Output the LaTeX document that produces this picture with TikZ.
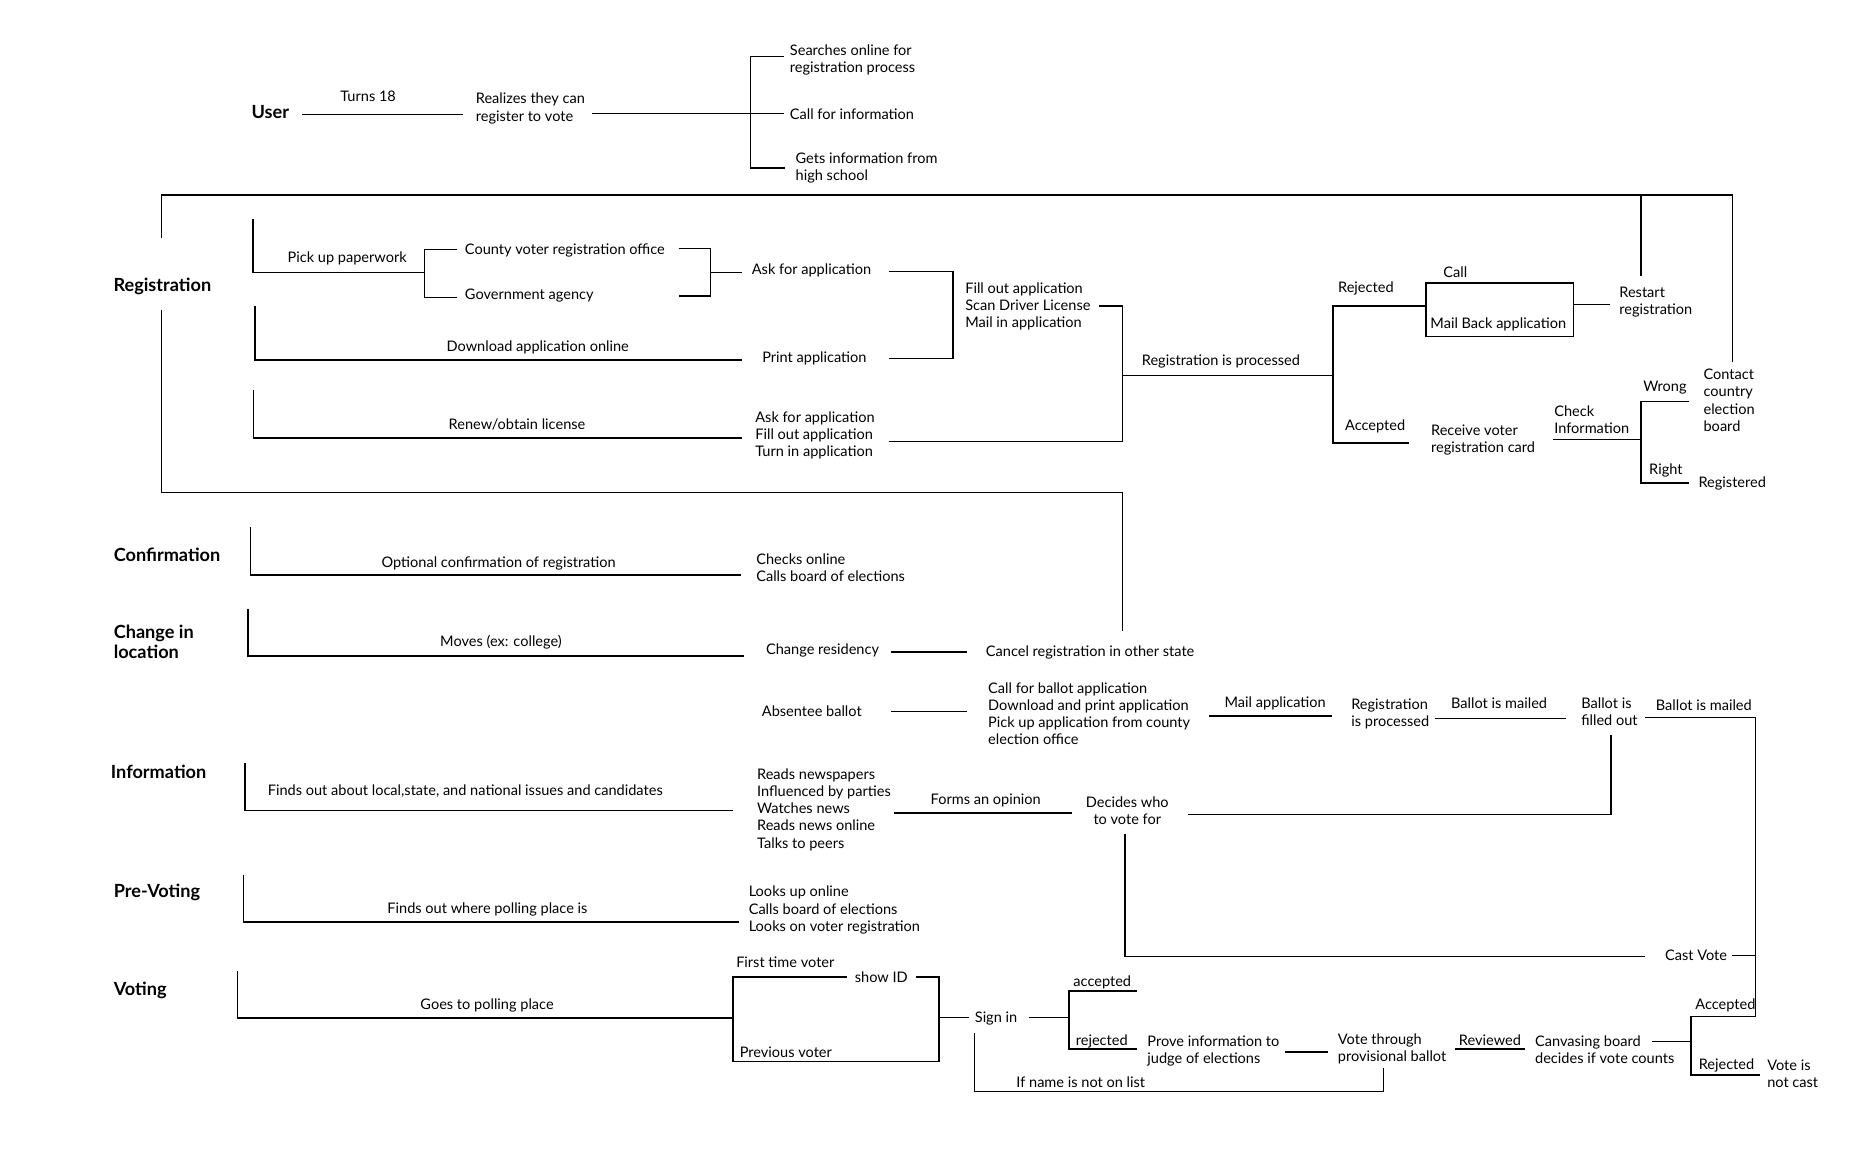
\documentclass[tikz,border=0pt]{standalone}
\usepackage{fontspec}
\setmainfont{Lato}
\tikzset{
  txt/.style={font=\fontsize{12.2}{14.4}\selectfont, inner sep=0pt, align=left, yshift=-1.5pt, execute at begin node=\strut, execute at end node=\strut},
  tw/.style={txt, anchor=west},
  tc/.style={txt, anchor=center},
  lab/.style={font=\bfseries\fontsize{15.2}{17.5}\selectfont, inner sep=0pt, align=left, anchor=west, yshift=-2pt, execute at begin node=\strut, execute at end node=\strut},
  ln/.style={line width=1.2pt, line cap=butt, line join=miter}
}
\begin{document}
\begin{tikzpicture}[x=1pt,y=-1pt]
\useasboundingbox (0,0) rectangle (1565.1,967.5);
% ---------- section labels
\node[lab] (user) at (210.7,94) {User};
\node[lab] (reg) at (95,239) {Registration};
\node[lab] (conf) at (95.2,465) {Confirmation};
\node[lab] (chg) at (95.2,538.6) {Change in\\location};
\node[lab] (info) at (92.8,647.4) {Information};
\node[lab] (pre) at (95.2,747.2) {Pre-Voting};
\node[lab] (vot) at (95.2,829) {Voting};
% ---------- user
\node[tc] (turns) at (308.6,80.9) {Turns 18};
\node[tw] (realize) at (398.7,90.5) {Realizes they can\\register to vote};
\node[tw] (search) at (662,49.8) {Searches online for\\registration process};
\node[tw] (callinfo) at (662,96) {Call for information};
\node[tw] (highschool) at (666.8,140.5) {Gets information from\\high school};
% ---------- registration
\node[tc] (pickup) at (291,215.8) {Pick up paperwork};
\node[tw] (county) at (389.6,209.1) {County voter registration office};
\node[tw] (govt) at (389.6,246.4) {Government agency};
\node[tw] (askapp) at (630.1,225.8) {Ask for application};
\node[tc] (download) at (450.8,290.4) {Download application online};
\node[tw] (printapp) at (638.8,299.3) {Print application};
\node[tw] (fillout) at (809,256.5) {Fill out application\\Scan Driver License\\Mail in application};
\node[tc] (processed) at (1023.5,302.4) {Registration is processed};
\node[tc] (renew) at (433.4,355.9) {Renew/obtain license};
\node[tw] (askfill) at (633,364.5) {Ask for application\\Fill out application\\Turn in application};
\node[tc] (rejected) at (1145,240.6) {Rejected};
\node[tc] (accepted) at (1152.8,356.3) {Accepted};
\node[tc] (call) at (1220,228) {Call};
\node[tc] (mailback) at (1256,270.7) {Mail Back application};
\node[tw] (restart) at (1357.3,253) {Restart\\registration};
\node[tw] (receive) at (1199.5,368.6) {Receive voter\\registration card};
\node[tw] (check) at (1302.8,352.2) {Check\\Information};
\node[tc] (wrong) at (1395.7,323.7) {Wrong};
\node[tc] (right) at (1396.5,393) {Right};
\node[tw] (registered) at (1423.7,404) {Registered};
\node[tw] (contact) at (1427.9,336.2) {Contact\\country\\election\\board};
% ---------- confirmation
\node[tc] (optional) at (418,471.4) {Optional confirmation of registration};
\node[tw] (checks) at (633.8,476.3) {Checks online\\Calls board of elections};
% ---------- change in location
\node[tc] (moves) at (420,537.4) {Moves (ex: college)};
\node[tw] (residency) at (642,544.3) {Change residency};
\node[tw] (cancel) at (826.3,545.6) {Cancel registration in other state};
\node[tw] (absentee) at (638.5,596.1) {Absentee ballot};
\node[tw] (ballotapp) at (828.2,598.9) {Call for ballot application\\Download and print application\\Pick up application from county\\election office};
\node[tc] (mailapp) at (1069,588.3) {Mail application};
\node[tw] (regproc) at (1132.6,598) {Registration\\is processed};
\node[tc] (mailedA) at (1256.7,589.7) {Ballot is mailed};
\node[tw] (filled) at (1325.4,597) {Ballot is\\filled out};
\node[tc] (mailedB) at (1428.3,591.6) {Ballot is mailed};
% ---------- information
\node[tw] (findsout) at (224.3,662.2) {Finds out about local,state, and national issues and candidates};
\node[tw] (reads) at (634.5,678.3) {Reads newspapers\\Influenced by parties\\Watches news\\Reads news online\\Talks to peers};
\node[tc] (opinion) at (826.3,670) {Forms an opinion};
\node[tc, align=center] (decides) at (945,680.5) {Decides who\\to vote for};
\node[tc] (castvote) at (1421.8,801) {Cast Vote};
% ---------- pre-voting
\node[tc] (wherepoll) at (408.6,761.1) {Finds out where polling place is};
\node[tw] (looks) at (627.5,762.4) {Looks up online\\Calls board of elections\\Looks on voter registration};
% ---------- voting
\node[tc] (polling) at (408.3,841.8) {Goes to polling place};
\node[tw] (firsttime) at (617,806.8) {First time voter};
\node[tc] (showid) at (738.8,819) {show ID};
\node[tw] (previous) at (620,881.7) {Previous voter};
\node[tc] (signin) at (835,852.5) {Sign in};
\node[tc] (accB) at (924,822.5) {accepted};
\node[tc] (rejB) at (923.6,872) {rejected};
\node[tw] (prove) at (961.7,880.5) {Prove information to\\judge of elections};
\node[tw] (provisional) at (1121.4,879) {Vote through\\provisional ballot};
\node[tc] (reviewed) at (1249,872) {Reviewed};
\node[tw] (canvas) at (1286.7,880.5) {Canvasing board\\decides if vote counts};
\node[tc] (accC) at (1446.4,842) {Accepted};
\node[tc] (rejC) at (1447.3,892) {Rejected};
\node[tw] (notcast) at (1481.3,901) {Vote is\\not cast};
\node[tc] (notonlist) at (906,907) {If name is not on list};
% ---------- coordinates of connectors
\coordinate (u1) at (253.1,96);   \coordinate (u2) at (388.1,96);
\coordinate (u3) at (496.6,95);   \coordinate (u4) at (657,95);
\coordinate (bt) at (629.2,47.2); \coordinate (bb) at (629.2,140.8);
\coordinate (bt2) at (657,47.2);  \coordinate (bb2) at (658,140.8);
\coordinate (r0a) at (135.5,199.9); \coordinate (r0b) at (135.5,163.4);
\coordinate (r0c) at (1452.3,163.4); \coordinate (r0d) at (1452.3,303.8);
\coordinate (r0e) at (1375.5,163.4); \coordinate (r0f) at (1375.5,231.6);
\coordinate (r0g) at (135.5,259.8); \coordinate (r0h) at (135.5,413);
\coordinate (r0i) at (941,413);     \coordinate (r0j) at (941,529);
\coordinate (a1) at (212.2,183.7); \coordinate (a2) at (212.2,228.6); \coordinate (a3) at (355.8,228.6);
\coordinate (b1) at (383.3,209.1); \coordinate (b2) at (355.8,209.1);
\coordinate (b3) at (355.8,249.2); \coordinate (b4) at (383.3,249.2);
\coordinate (c1) at (568.9,208.2); \coordinate (c2) at (595.4,208.2);
\coordinate (c3) at (595.4,248.1); \coordinate (c4) at (568.9,248.1);
\coordinate (c5) at (595.4,228.3); \coordinate (c6) at (622,228.3);
\coordinate (d1) at (744.9,227.8); \coordinate (d2) at (798.9,227.8);
\coordinate (d3) at (798.9,300.7); \coordinate (d4) at (744.9,300.7);
\coordinate (e1) at (213.6,256.2); \coordinate (e2) at (213.6,301.6); \coordinate (e3) at (622,301.6);
\coordinate (f1) at (212.6,327.2); \coordinate (f2) at (212.6,367.2); \coordinate (f3) at (622,367.2);
\coordinate (g1) at (744.9,370);   \coordinate (g2) at (941,370);
\coordinate (g3) at (941,256.6);   \coordinate (g4) at (921.3,256.6);
\coordinate (g5) at (941,315);     \coordinate (g6) at (1117.5,315);
\coordinate (h1) at (1195.4,256.6); \coordinate (h2) at (1117.5,256.6);
\coordinate (h3) at (1117.5,371.2); \coordinate (h4) at (1180.8,371.2);
\coordinate (bx1) at (1195.4,237.3); \coordinate (bx2) at (1318.9,281.9);
\coordinate (i1) at (1318.9,255.2); \coordinate (i2) at (1349.5,255.2);
\coordinate (k1) at (1301.7,368.3); \coordinate (k2) at (1375.5,368.3);
\coordinate (k3) at (1415.9,336.6); \coordinate (k4) at (1375.5,336.6);
\coordinate (k5) at (1375.5,404.8); \coordinate (k6) at (1415.9,404.8);
\coordinate (m1) at (209.9,442.1); \coordinate (m2) at (209.9,481.9); \coordinate (m3) at (620.8,481.9);
\coordinate (n1) at (207.9,510.4); \coordinate (n2) at (207.9,549.9); \coordinate (n3) at (624.1,549.9);
\coordinate (n4) at (747,546.6);   \coordinate (n5) at (811,546.6);
\coordinate (n6) at (747,596.3);   \coordinate (n7) at (811,596.3);
\coordinate (n8) at (1013.8,600.3); \coordinate (n9) at (1116.7,600.3);
\coordinate (n10) at (1203,602.2); \coordinate (n11) at (1313,602.2);
\coordinate (n12) at (1379,601.7); \coordinate (n13) at (1471.5,601.7);
\coordinate (n15) at (1350.4,616.2); \coordinate (n16) at (1350.4,683); \coordinate (n17) at (996,683);
\coordinate (p1) at (205.5,639.9); \coordinate (p2) at (205.5,679.5); \coordinate (p3) at (614.5,679.5);
\coordinate (p4) at (749.5,681.5); \coordinate (p5) at (898.7,681.5);
\coordinate (p6) at (943,699);     \coordinate (p7) at (943,802);   \coordinate (p8) at (1379,802);
\coordinate (p9) at (1452,801);    \coordinate (p10) at (1471.5,801);
\coordinate (q1) at (204.1,733.2); \coordinate (q2) at (204.1,772.8); \coordinate (q3) at (619.3,772.8);
\coordinate (v1) at (199.3,814.3); \coordinate (v2) at (199.3,853.5); \coordinate (v3) at (614.5,853.5);
\coordinate (v4) at (709.9,819);   \coordinate (v5) at (614.5,819);
\coordinate (v6) at (614.5,890);   \coordinate (v7) at (787,890);
\coordinate (v8) at (787,819);     \coordinate (v9) at (767.7,819);
\coordinate (v10) at (787,853);    \coordinate (v11) at (812.6,853);
\coordinate (v12) at (862.5,853);  \coordinate (v13) at (896.2,853);
\coordinate (v14) at (953,830.8);  \coordinate (v15) at (896.2,830.8);
\coordinate (v16) at (896.2,879.5); \coordinate (v17) at (953,879.5);
\coordinate (v18) at (1077,882);   \coordinate (v19) at (1113.3,882);
\coordinate (v20) at (1219.3,879.5); \coordinate (v21) at (1278.6,879.5);
\coordinate (v22) at (1384.6,873); \coordinate (v23) at (1417.7,873);
\coordinate (v24) at (1417.7,852); \coordinate (v25) at (1417.7,901); \coordinate (v26) at (1475,901);
\coordinate (v27) at (817,866);    \coordinate (v28) at (817,915.2);
\coordinate (v29) at (1160,915.2); \coordinate (v30) at (1160,895);
\coordinate (n14) at (1471.5,852);
% ---------- connectors
\draw[ln] (u1)--(u2) (u3)--(u4) (bt2)--(bt)--(bb)--(bb2);
\draw[ln] (r0a)--(r0b)--(r0c)--(r0d) (r0e)--(r0f) (r0g)--(r0h)--(r0i)--(r0j);
\draw[ln] (a1)--(a2)--(a3) (b1)--(b2)--(b3)--(b4) (c1)--(c2)--(c3)--(c4) (c5)--(c6)
          (d1)--(d2)--(d3)--(d4) (e1)--(e2)--(e3) (f1)--(f2)--(f3)
          (g1)--(g2)--(g3)--(g4) (g5)--(g6) (h1)--(h2)--(h3)--(h4)
          (bx1) rectangle (bx2) (i1)--(i2) (k1)--(k2) (k3)--(k4)--(k5)--(k6);
\draw[ln] (m1)--(m2)--(m3);
\draw[ln] (n1)--(n2)--(n3) (n4)--(n5) (n6)--(n7) (n8)--(n9) (n10)--(n11)
          (n12)--(n13)--(n14)--(v24)--(v25)--(v26) (n15)--(n16)--(n17);
\draw[ln] (p1)--(p2)--(p3) (p4)--(p5) (p6)--(p7)--(p8) (p9)--(p10);
\draw[ln] (q1)--(q2)--(q3);
\draw[ln] (v1)--(v2)--(v3) (v4)--(v5)--(v6)--(v7)--(v8)--(v9) (v10)--(v11) (v12)--(v13)
          (v14)--(v15)--(v16)--(v17) (v18)--(v19) (v20)--(v21) (v22)--(v23)
          (v27)--(v28)--(v29)--(v30);
\end{tikzpicture}
\end{document}
